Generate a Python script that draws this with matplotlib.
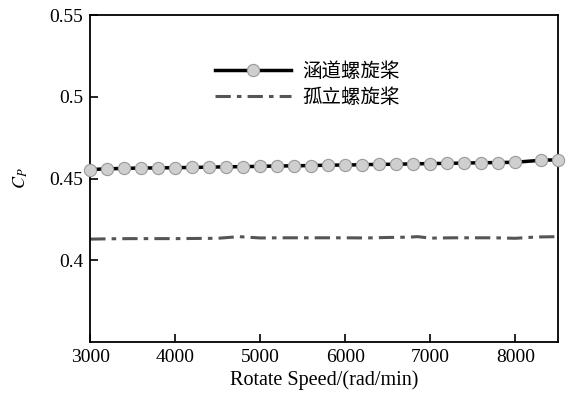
import matplotlib
matplotlib.use('Agg')
import matplotlib.pyplot as plt

plt.rcParams['font.family'] = ['Liberation Serif', 'Noto Sans CJK SC']
plt.rcParams['mathtext.fontset'] = 'stix'

# ducted propeller (markers)
speed_duct = [3000, 3200, 3400, 3600, 3800, 4000, 4200, 4400, 4600, 4800,
              5000, 5200, 5400, 5600, 5800, 6000, 6200, 6400, 6600, 6800,
              7000, 7200, 7400, 7600, 7800, 8000, 8300, 8500]
cp_duct = [0.4555, 0.4560, 0.4562, 0.4565, 0.4565, 0.4567, 0.4568, 0.4570,
           0.4572, 0.4573, 0.4575, 0.4577, 0.4578, 0.4580, 0.4582, 0.4583,
           0.4585, 0.4587, 0.4588, 0.4590, 0.4592, 0.4593, 0.4595, 0.4597,
           0.4598, 0.4600, 0.4612, 0.4615]

# isolated propeller
speed_iso = [3000, 3250, 3500, 3750, 4000, 4250, 4500, 4750, 5000, 5250,
             5500, 5750, 6000, 6250, 6500, 6750, 6850, 7000, 7250, 7500,
             7750, 8000, 8250, 8500]
cp_iso = [0.4130, 0.4132, 0.4133, 0.4133, 0.4133, 0.4134, 0.4135, 0.4145,
          0.4137, 0.4138, 0.4138, 0.4138, 0.4138, 0.4137, 0.4140, 0.4142,
          0.4145, 0.4136, 0.4138, 0.4138, 0.4138, 0.4135, 0.4143, 0.4145]

label_duct = '涵道螺旋桨'
label_iso = '孤立螺旋桨'

fig = plt.figure(figsize=(5.71, 3.96), dpi=100)
ax = fig.add_axes([0.158, 0.136, 0.819, 0.826])

ax.plot(speed_duct, cp_duct, '-', color='black', lw=2.5, marker='o',
        markersize=8.8, markerfacecolor='#cfcfcf', markeredgecolor='#9a9a9a',
        markeredgewidth=0.8, label=label_duct, clip_on=False, zorder=3)
ax.plot(speed_iso, cp_iso, color='#555555', lw=2.2, linestyle=(0, (5, 2, 1.5, 2)),
        label=label_iso)

ax.set_xlim(3000, 8500)
ax.set_ylim(0.35, 0.55)
ax.set_xticks([3000, 4000, 5000, 6000, 7000, 8000])
ax.set_yticks([0.4, 0.45, 0.5, 0.55])
ax.set_yticklabels(['0.4', '0.45', '0.5', '0.55'])
ax.tick_params(direction='in', length=6, width=1.2, labelsize=14, pad=5)
for s in ax.spines.values():
    s.set_linewidth(1.3)

ax.set_xlabel('Rotate Speed/(rad/min)', fontsize=14.5, labelpad=3)
ax.set_ylabel('$C_P$', fontsize=13, labelpad=14)

leg = ax.legend(loc='upper left', bbox_to_anchor=(0.25, 0.88), frameon=False,
                fontsize=14, handlelength=3.9, handletextpad=0.6,
                labelspacing=0.4, borderaxespad=0)

fig.savefig('out.png', dpi=100)
